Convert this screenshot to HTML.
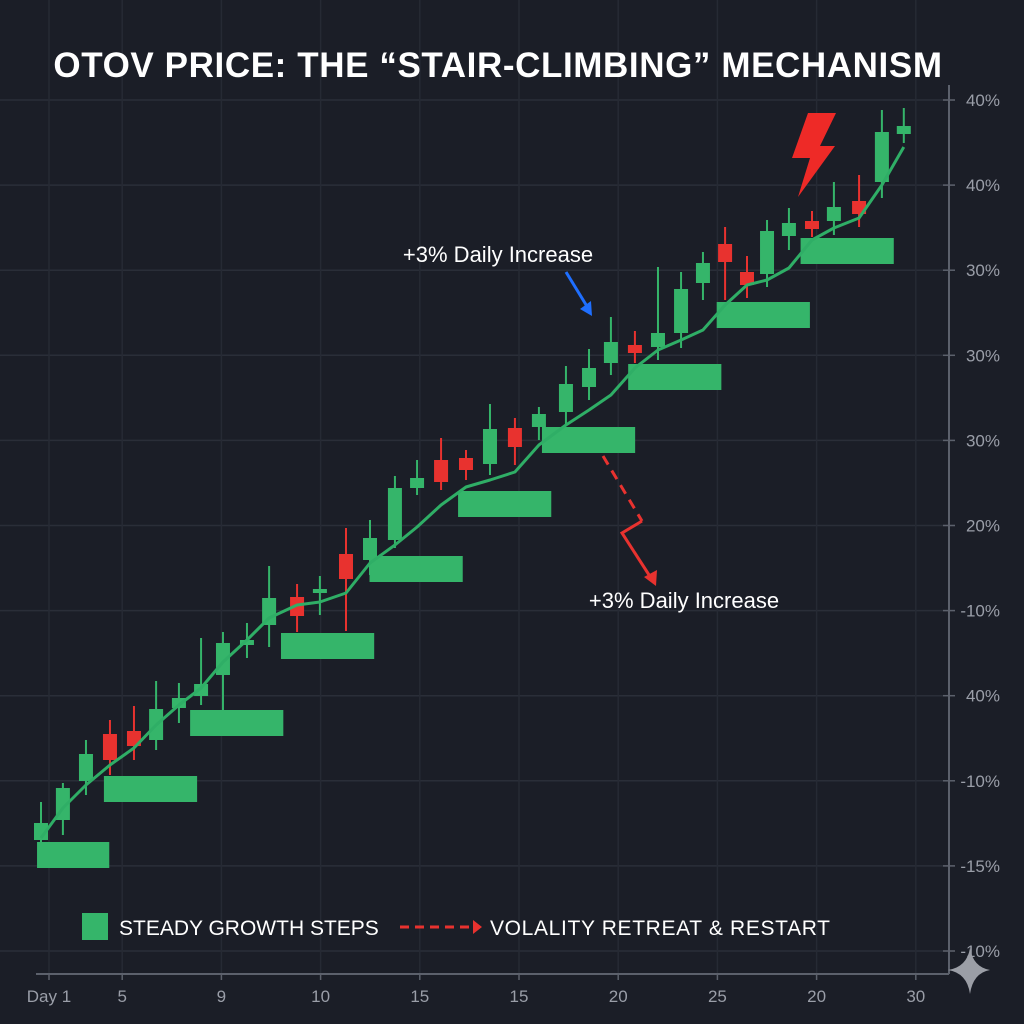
<!DOCTYPE html>
<html><head><meta charset="utf-8"><style>
html,body{margin:0;padding:0;background:#1b1e27;}
svg{display:block;}
</style></head><body>
<svg id="chart" width="1024" height="1024" viewBox="0 0 1024 1024" font-family="Liberation Sans, sans-serif">
<rect x="0" y="0" width="1024" height="1024" fill="#1b1e27"/>
<g id="grid"></g>
<g id="steps"></g>
<g id="candles"></g>
<path id="trend" fill="none" stroke="#2fae66" stroke-width="3" stroke-linejoin="round"/>
<g id="axes"></g>
<text x="498" y="77" text-anchor="middle" fill="#ffffff" font-size="35" font-weight="bold" letter-spacing="0.6">OTOV PRICE: THE “STAIR-CLIMBING” MECHANISM</text>
<text x="498" y="262" text-anchor="middle" fill="#ffffff" font-size="22">+3% Daily Increase</text>
<g>
<line x1="566" y1="272" x2="588" y2="308" stroke="#1f6fff" stroke-width="3"/>
<polygon points="592,316 580,309 591,301" fill="#1f6fff"/>
</g>
<g>
<line x1="603" y1="456" x2="642" y2="521" stroke="#e8322f" stroke-width="3" stroke-dasharray="10,7"/>
<polyline points="642,521 622,533 651,578" fill="none" stroke="#e8322f" stroke-width="3"/>
<polygon points="656,586 644,577 657,570" fill="#e8322f"/>
</g>
<text x="684" y="608" text-anchor="middle" fill="#ffffff" font-size="22">+3% Daily Increase</text>
<polygon points="808,113 836,113 820,146 835,146 798,197 810,158 792,158" fill="#ee2a27"/>
<g>
<rect x="82" y="913" width="26" height="27" fill="#35b56a"/>
<text x="119" y="935" fill="#ffffff" font-size="21">STEADY GROWTH STEPS</text>
<line x1="400" y1="927" x2="470" y2="927" stroke="#e8322f" stroke-width="3" stroke-dasharray="9,6"/>
<polygon points="473,920 482,927 473,934" fill="#e8322f"/>
<text x="490" y="935" fill="#ffffff" font-size="21" textLength="340">VOLALITY RETREAT &amp; RESTART</text>
</g>
<path d="M970,948 Q973,967 990,970 Q973,973 970,994 Q967,973 948,970 Q967,967 970,948Z" fill="#9b9ea6"/>
</svg>
<script>
const days   = [0,0.94,1.93,2.96,3.99,4.94,5.92,6.87,7.81,8.84,9.79,10.99,11.97,13.09,14.12,15.19,16.14,17.17,18.24,19.27,20.34,21.37,22.53,23.52,24.46,25.49,26.48,27.47,28.41,29.36,30.3,31.16,32.1,33.09,34.03,35.11,36.09,37.03];
const opens  = [134,154,193,240,243,234,266,278,299,329,349,377,382,420,414,434,486,514,516,510,546,547,562,587,611,629,627,641,691,730,702,700,738,753,753,773,792,840];
const closes = [151,186,220,214,228,265,276,290,331,334,376,358,385,395,436,486,496,492,504,545,527,560,590,606,632,621,641,685,711,712,689,743,751,745,767,760,842,848];
const highs  = [172,191,234,254,268,293,291,336,342,351,408,390,398,446,454,498,514,536,524,570,556,567,608,625,657,643,707,702,722,747,718,754,766,763,792,799,864,866];
const lows   = [129,139,179,199,214,224,251,269,264,316,327,342,359,343,399,426,479,484,494,499,509,534,549,574,599,611,614,626,674,674,676,687,724,737,739,747,776,831];
const trend  = [136,166,189,209,226,249,269,286,312,334,356,369,372,381,411,429,447,469,487,494,502,529,549,564,579,606,624,634,644,669,689,694,706,734,746,756,789,827];
const stepStart = [-0.17,2.7,6.4,10.3,14.1,17.9,21.5,25.2,29.0,32.6];
const stepSpan  = [3.1,4,4,4,4,4,4,4,4,4];
const stepLevel = [132,198,264,341,418,483,547,610,672,736];
const yTickLabels = ["40%","40%","30%","30%","30%","20%","-10%","40%","-10%","-15%","-10%"];
const xTickLabels = ["Day 1","5","9","10","15","15","20","25","20","30"];

const NS="http://www.w3.org/2000/svg";
function xScale(d){return 41+d*23.3;}
function yScale(v){return 974-v;}
function yTickPos(k){return 100+k*85.1;}
function xTickPos(k){return k===0?49:23+k*99.2;}
function mk(tag,attrs,parent){const e=document.createElementNS(NS,tag);for(const k in attrs)e.setAttribute(k,attrs[k]);parent.appendChild(e);return e;}

const grid=document.getElementById('grid');
yTickLabels.forEach((t,k)=>{
  const y=yTickPos(k);
  const l=mk('line',{x1:0,y1:y,x2:955,y2:y,stroke:'#2a2e38','stroke-width':1.5},grid);
  
  
});
xTickLabels.forEach((t,k)=>{
  const x=xTickPos(k);
  const l=mk('line',{x1:x,y1:0,x2:x,y2:974,stroke:'#262a34','stroke-width':1.5},grid);
  
  
});

const steps=document.getElementById('steps');
stepLevel.forEach((lv,k)=>{
  const x1=xScale(stepStart[k]), x2=xScale(stepStart[k]+stepSpan[k]);
  const r=mk('rect',{x:x1,y:yScale(lv),width:x2-x1,height:26,fill:'#35b56a'},steps);
  
  
});

const cg=document.getElementById('candles');
opens.forEach((o,i)=>{
  const c=closes[i], up=c>=o, col=up?'#35b56a':'#e8322f';
  const x=xScale(days[i]);
  const g=mk('g',{},cg);
  
  
  mk('line',{x1:x,y1:yScale(highs[i]),x2:x,y2:yScale(lows[i]),stroke:col,'stroke-width':2},g);
  const top=yScale(Math.max(o,c)), bot=yScale(Math.min(o,c));
  mk('rect',{x:x-7,y:top,width:14,height:Math.max(4,bot-top),fill:col},g);
});

document.getElementById('trend').setAttribute('d',trend.map((v,i)=>(i?'L':'M')+xScale(days[i])+','+yScale(v)).join(' '));

const ax=document.getElementById('axes');
mk('line',{x1:36,y1:974,x2:949,y2:974,stroke:'#5c616c','stroke-width':2},ax);
mk('line',{x1:949,y1:85,x2:949,y2:974,stroke:'#5c616c','stroke-width':2},ax);
yTickLabels.forEach((t,k)=>{
  const y=yTickPos(k);
  mk('line',{x1:943,y1:y,x2:955,y2:y,stroke:'#5c616c','stroke-width':1.5},ax);
  const tx=mk('text',{x:1000,y:y+6,'text-anchor':'end',fill:'#9a9ea8','font-size':17},ax);
  tx.textContent=t;
  
  
});
xTickLabels.forEach((t,k)=>{
  const x=xTickPos(k);
  mk('line',{x1:x,y1:974,x2:x,y2:980,stroke:'#5c616c','stroke-width':1.5},ax);
  const tx=mk('text',{x:x,y:1002,'text-anchor':'middle',fill:'#9a9ea8','font-size':17},ax);
  tx.textContent=t;
  
  
});
</script>
</body></html>
